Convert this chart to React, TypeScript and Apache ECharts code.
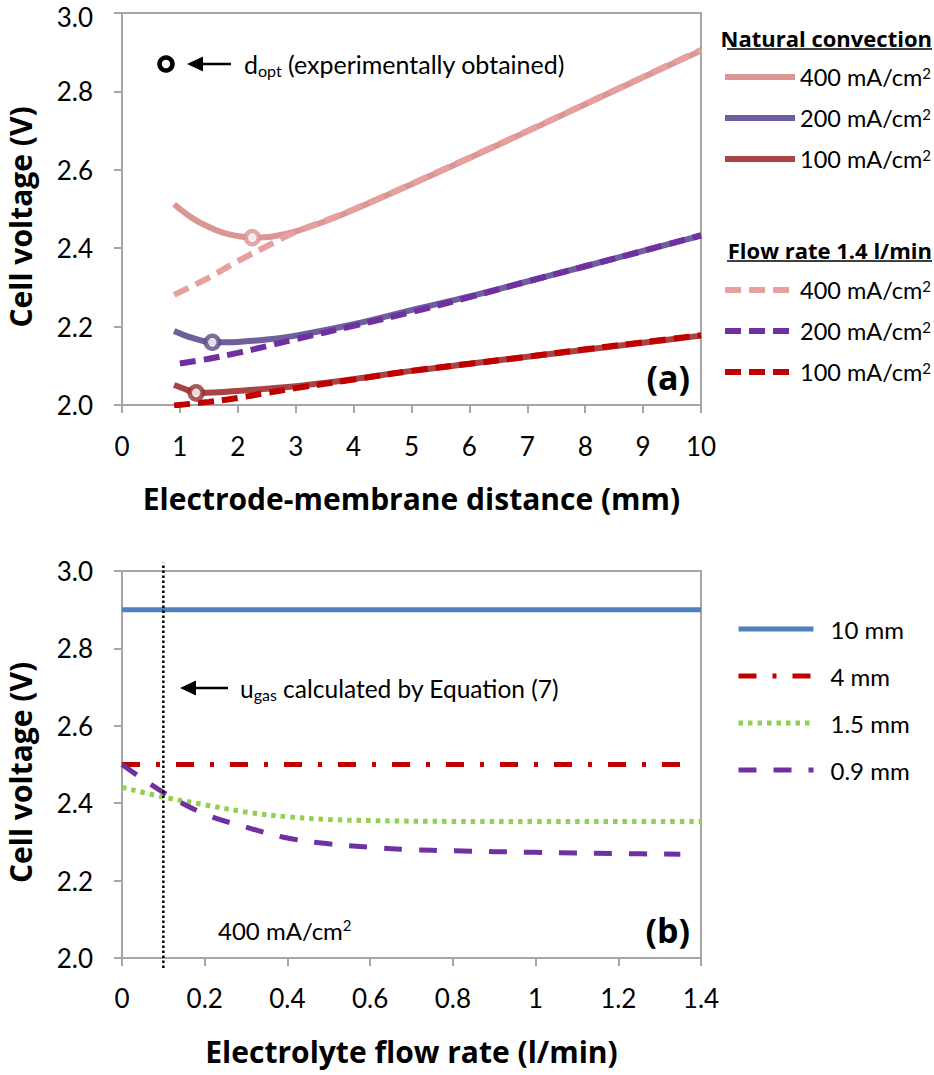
import React, { useEffect, useRef } from "react";
import * as echarts from "echarts";

// ---------- data (a): cell voltage vs electrode-membrane distance ----------
const natural400: [number, number][] = [[0.9, 2.512], [1.2, 2.478], [1.5, 2.454], [1.8, 2.437], [2.25, 2.427], [2.6, 2.43], [3, 2.443], [3.5, 2.468], [4, 2.498], [5, 2.563], [6, 2.63], [7, 2.698], [8, 2.767], [9, 2.836], [10, 2.904]];
const natural200: [number, number][] = [[0.9, 2.189], [1.2, 2.172], [1.56, 2.16], [2, 2.161], [2.5, 2.167], [3, 2.177], [4, 2.206], [5, 2.242], [6, 2.277], [7, 2.315], [8, 2.354], [9, 2.393], [10, 2.432]];
const natural100: [number, number][] = [[0.9, 2.051], [1.1, 2.04], [1.28, 2.031], [1.6, 2.032], [2, 2.036], [3, 2.048], [4, 2.066], [5, 2.087], [6, 2.105], [7, 2.123], [8, 2.141], [9, 2.159], [10, 2.177]];
const flow400: [number, number][] = [[0.9, 2.281], [1.5, 2.325], [2, 2.367], [2.5, 2.405], [3, 2.442], [3.5, 2.47], [4, 2.499], [5, 2.564], [6, 2.631], [7, 2.699], [8, 2.768], [9, 2.837], [10, 2.906]];
const flow200: [number, number][] = [[1.0, 2.106], [1.5, 2.118], [2, 2.133], [2.5, 2.15], [3, 2.168], [4, 2.202], [5, 2.237], [6, 2.275], [7, 2.315], [8, 2.354], [9, 2.393], [10, 2.433]];
const flow100: [number, number][] = [[0.9, 1.999], [1.5, 2.008], [2, 2.018], [2.5, 2.031], [3, 2.043], [4, 2.065], [5, 2.087], [6, 2.105], [7, 2.123], [8, 2.142], [9, 2.16], [10, 2.178]];
const optimum400: [number, number][] = [[2.25, 2.427]];
const optimum200: [number, number][] = [[1.56, 2.16]];
const optimum100: [number, number][] = [[1.28, 2.031]];
const distanceTicks = { min: 0, max: 10, interval: 1 };

// ---------- data (b): cell voltage vs electrolyte flow rate (400 mA/cm2) ----------
const gap10mm: [number, number][] = [[0, 2.9], [1.4, 2.9]];
const gap4mm: [number, number][] = [[0, 2.5], [1.36, 2.5]];
const gap15mm: [number, number][] = [[0, 2.441], [0.1, 2.416], [0.2, 2.396], [0.3, 2.377], [0.4, 2.365], [0.5, 2.358], [0.6, 2.355], [0.8, 2.353], [1.0, 2.353], [1.2, 2.353], [1.4, 2.353]];
const gap09mm: [number, number][] = [[0, 2.5], [0.1, 2.428], [0.2, 2.372], [0.3, 2.338], [0.4, 2.31], [0.5, 2.295], [0.6, 2.286], [0.7, 2.28], [0.8, 2.277], [1.0, 2.273], [1.2, 2.27], [1.35, 2.268]];
const ugasLine: [number, number][] = [[0.1, 1.974], [0.1, 3.021]];
const flowTicks = { min: 0, max: 1.4, interval: 0.2 };
const voltageTicks = { min: 2.0, max: 3.0, interval: 0.2 };

const legendA1 = ["NC400", "NC200", "NC100"];
const legendA2 = ["FR400", "FR200", "FR100"];
const legendB = ["10 mm", "4 mm", "1.5 mm", "0.9 mm"];
const legendLabels: Record<string, string> = {
  NC400: "400 mA/cm{sup|2}", NC200: "200 mA/cm{sup|2}", NC100: "100 mA/cm{sup|2}",
  FR400: "400 mA/cm{sup|2}", FR200: "200 mA/cm{sup|2}", FR100: "100 mA/cm{sup|2}",
};

const FONT = "Lato";
const BOLD = "Open Sans";
const AXIS_GREY = "#A6A6A6";

export default function App() {
  const ref = useRef<HTMLDivElement>(null);
  useEffect(() => {
    document.body.style.margin = "0";
    const chart = echarts.init(ref.current!, null, { renderer: "svg" });

    const axisCommon = {
      type: "value",
      axisLine: { show: true, lineStyle: { color: AXIS_GREY, width: 2 } },
      axisTick: { show: true, length: 8, lineStyle: { color: AXIS_GREY, width: 2 } },
      splitLine: { show: false },
      nameLocation: "middle",
      nameTextStyle: { fontFamily: BOLD, fontWeight: "bold", fontSize: 30, color: "#000" },
    };
    const yName = { fontFamily: BOLD, fontWeight: "bold", fontSize: 30, color: "#000", padding: [0, 16, 0, 0] };
    const xLabel = { fontFamily: FONT, fontSize: 26, lineHeight: 22, color: "#000", margin: 30 };
    const yLabel = { fontFamily: FONT, fontSize: 26, lineHeight: 22, color: "#000", margin: 29, formatter: (v: number) => v.toFixed(1) };
    // top label of chart (a) sits at the page edge: nudge it down a little so it stays inside
    const yLabelA = {
      ...yLabel,
      formatter: (v: number) => (v >= 3 ? `{edge|${v.toFixed(1)}}` : v.toFixed(1)),
      rich: { edge: { fontFamily: FONT, fontSize: 26, color: "#000", lineHeight: 22, padding: [8, 0, 0, 0] } },
    };

    const line = (name: string, data: any, color: string, type: any, width: number, xi: number, extra: any = {}) => ({
      name, type: "line", xAxisIndex: xi, yAxisIndex: xi, data, smooth: 0.35, symbol: "none", showSymbol: false,
      lineStyle: { color, width, type, cap: "butt" }, itemStyle: { color }, z: 3, ...extra,
    });
    const marker = (data: any, color: string) => ({
      type: "scatter", xAxisIndex: 0, yAxisIndex: 0, data, symbol: "circle", symbolSize: 13,
      itemStyle: { color: "#fff", borderColor: color, borderWidth: 4.5 }, z: 5, silent: true,
    });

    const legendText = {
      fontFamily: FONT, fontSize: 23.5, color: "#000", lineHeight: 24,
      rich: { sup: { fontFamily: FONT, fontSize: 15, verticalAlign: "top", lineHeight: 24, padding: [0, 0, 10, 0] } },
    };
    const legendCommon = {
      orient: "vertical", padding: 0, itemHeight: 24,
      itemStyle: { opacity: 0, borderWidth: 0 },
      lineStyle: { width: 6 },
    };

    const option: any = {
      animation: false,
      backgroundColor: "#fff",
      grid: [
        { left: 122, top: 13, width: 579, height: 392, show: true, borderColor: AXIS_GREY, borderWidth: 2, outerBoundsMode: "none", containLabel: false },
        { left: 122, top: 571, width: 579, height: 387, show: true, borderColor: AXIS_GREY, borderWidth: 2, outerBoundsMode: "none", containLabel: false },
      ],
      xAxis: [
        { ...axisCommon, gridIndex: 0, ...distanceTicks, axisLabel: xLabel, name: "Electrode-membrane distance (mm)", nameGap: 78 },
        { ...axisCommon, gridIndex: 1, ...flowTicks, axisLabel: { ...xLabel, margin: 29, formatter: (v: number) => String(+v.toFixed(1)) }, name: "Electrolyte flow rate (l/min)", nameGap: 78 },
      ],
      yAxis: [
        { ...axisCommon, gridIndex: 0, ...voltageTicks, axisLabel: yLabelA, name: "Cell voltage (V)", nameGap: 87, nameTextStyle: yName },
        { ...axisCommon, gridIndex: 1, ...voltageTicks, axisLabel: yLabel, name: "Cell voltage (V)", nameGap: 87, nameTextStyle: yName },
      ],
      legend: [
        { ...legendCommon, left: 722, top: 65, itemGap: 16, itemWidth: 70, data: legendA1, formatter: (n: string) => legendLabels[n], textStyle: { ...legendText, padding: [0, 0, 0, 0] } },
        { ...legendCommon, left: 722, top: 278, itemGap: 16, itemWidth: 70, data: legendA2, formatter: (n: string) => legendLabels[n], textStyle: { ...legendText, padding: [0, 0, 0, 0] } },
        { ...legendCommon, left: 736, top: 617, itemGap: 23, itemWidth: 75, lineStyle: { width: 5 }, data: legendB, textStyle: { ...legendText, fontSize: 24, padding: [0, 0, 0, 12] } },
      ],
      series: [
        line("NC400", natural400, "#D99694", "solid", 6, 0),
        line("NC200", natural200, "#6F5F9C", "solid", 6, 0),
        line("NC100", natural100, "#A84444", "solid", 6, 0),
        line("FR400", flow400, "#E6A09E", [16, 8], 6, 0),
        line("FR200", flow200, "#7030A0", [16, 8], 6, 0),
        line("FR100", flow100, "#C00000", [16, 8], 6, 0),
        marker(optimum400, "#DA9593"),
        marker(optimum200, "#5E4A86"),
        marker(optimum100, "#922F2F"),
        line("10 mm", gap10mm, "#4F81BD", "solid", 5, 1, { smooth: false }),
        line("4 mm", gap4mm, "#C00000", [18, 16, 4, 16], 5, 1, { smooth: false }),
        line("1.5 mm", gap15mm, "#92D050", [4.5, 5], 5, 1),
        line("0.9 mm", gap09mm, "#7030A0", [18, 17], 5, 1),
        line("ugas", ugasLine, "#000", [2.5, 2.5], 2.5, 1, { smooth: false, clip: false, z: 6 }),
      ],
      graphic: [
        // (a) annotation
        { type: "circle", shape: { cx: 166, cy: 64, r: 6.5 }, style: { fill: "#fff", stroke: "#000", lineWidth: 4.5 } },
        { type: "line", shape: { x1: 198, y1: 64, x2: 231, y2: 64 }, style: { stroke: "#000", lineWidth: 2.5 } },
        { type: "polygon", shape: { points: [[187, 64], [203, 56.5], [203, 71.5]] }, style: { fill: "#000" } },
        {
          type: "text", x: 244, y: 64,
          style: {
            text: "d{sub|opt} (experimentally obtained)", fill: "#000", font: `25px ${FONT}`, verticalAlign: "middle",
            rich: { sub: { fontFamily: FONT, fontSize: 16, verticalAlign: "bottom", padding: [12, 0, 0, 0] } },
          },
        },
        { type: "text", x: 690, y: 377, style: { text: "(a)", fill: "#000", font: `bold 34px ${BOLD}`, align: "right", verticalAlign: "middle" } },
        // legend headings (a)
        { type: "text", x: 932, y: 38, style: { text: "Natural convection", fill: "#000", font: `bold 22px ${BOLD}`, align: "right", verticalAlign: "middle" } },
        { type: "line", shape: { x1: 727, y1: 49, x2: 932, y2: 49 }, style: { stroke: "#000", lineWidth: 1.5 } },
        { type: "text", x: 932, y: 250, style: { text: "Flow rate 1.4 l/min", fill: "#000", font: `bold 22px ${BOLD}`, align: "right", verticalAlign: "middle" } },
        { type: "line", shape: { x1: 727, y1: 261, x2: 932, y2: 261 }, style: { stroke: "#000", lineWidth: 1.5 } },
        // (b) annotations
        { type: "line", shape: { x1: 192, y1: 688, x2: 228, y2: 688 }, style: { stroke: "#000", lineWidth: 2.5 } },
        { type: "polygon", shape: { points: [[180, 688], [196, 680.5], [196, 695.5]] }, style: { fill: "#000" } },
        {
          type: "text", x: 240, y: 688,
          style: {
            text: "u{sub|gas} calculated by Equation (7)", fill: "#000", font: `24.5px ${FONT}`, verticalAlign: "middle",
            rich: { sub: { fontFamily: FONT, fontSize: 16, verticalAlign: "bottom", padding: [12, 0, 0, 0] } },
          },
        },
        {
          type: "text", x: 218, y: 930,
          style: {
            text: "400 mA/cm{sup|2}", fill: "#000", font: `24px ${FONT}`, verticalAlign: "middle",
            rich: { sup: { fontFamily: FONT, fontSize: 15, verticalAlign: "top", padding: [0, 0, 10, 0] } },
          },
        },
        { type: "text", x: 690, y: 930, style: { text: "(b)", fill: "#000", font: `bold 34px ${BOLD}`, align: "right", verticalAlign: "middle" } },
      ],
    };
    chart.setOption(option);
    return () => chart.dispose();
  }, []);
  return <div ref={ref} style={{ width: 934, height: 1075 }} />;
}
